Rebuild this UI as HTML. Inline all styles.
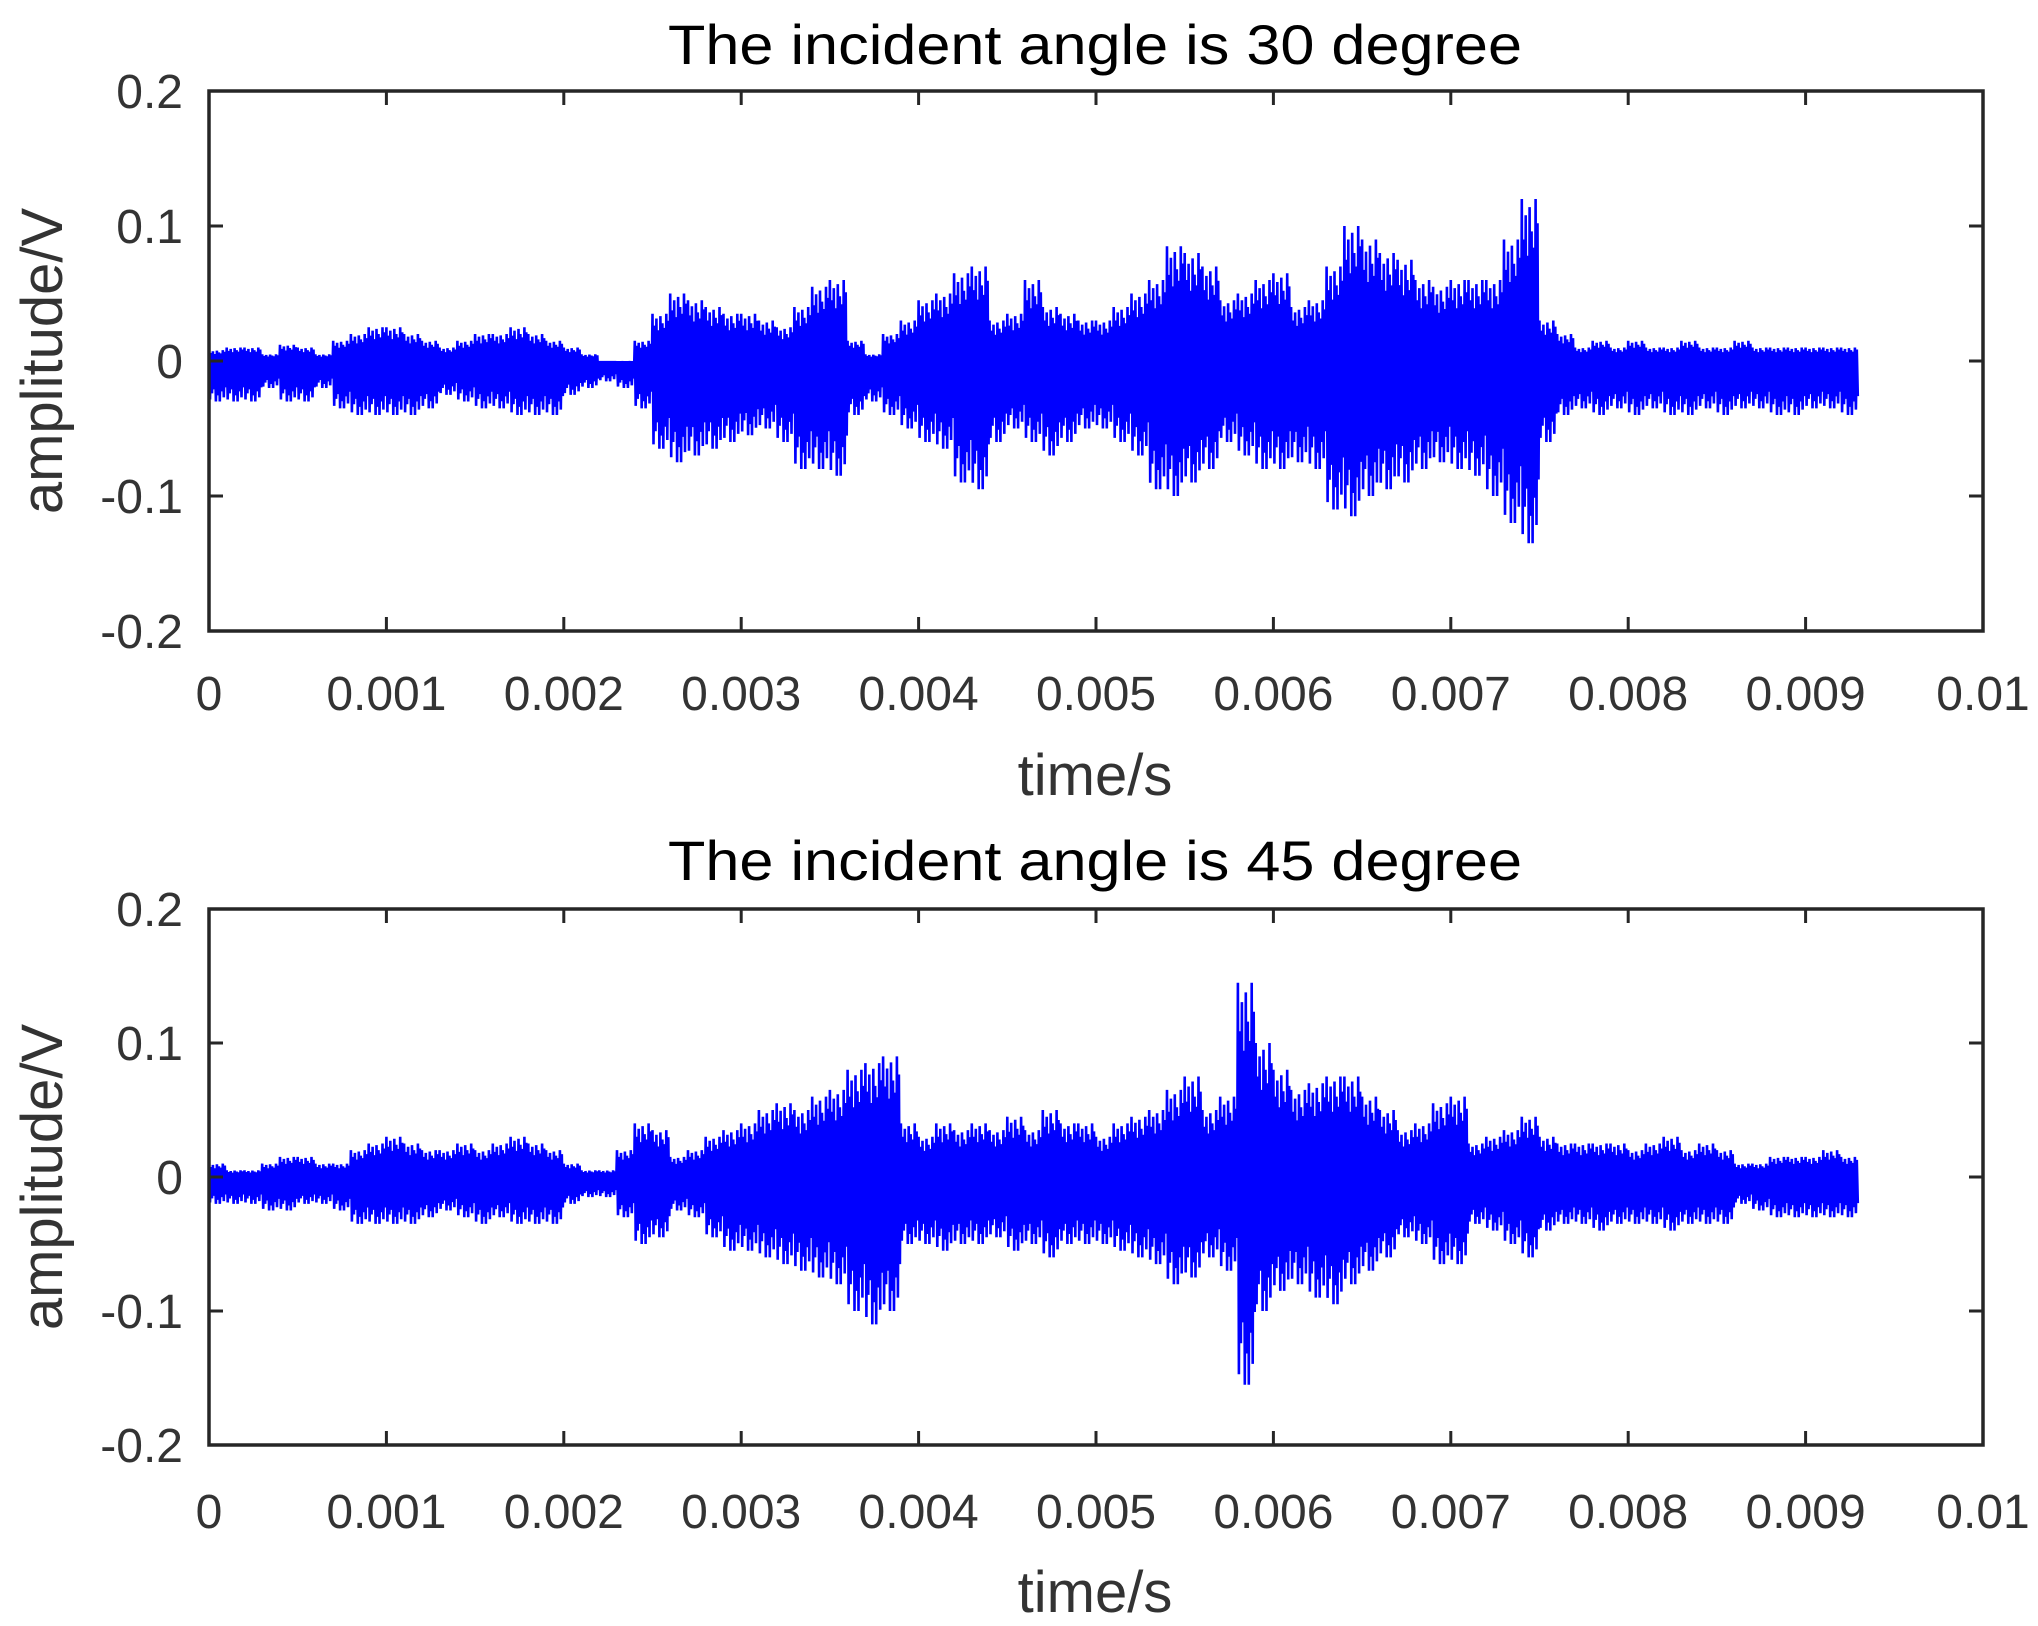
<!DOCTYPE html>
<html><head><meta charset="utf-8"><style>
html,body{margin:0;padding:0;background:#fff}
svg{display:block}
text{font-family:"Liberation Sans",Arial,sans-serif}
</style></head><body>
<svg id="fig" width="2038" height="1626" viewBox="0 0 2038 1626" xmlns="http://www.w3.org/2000/svg"></svg>
<script>
const xTicks = [0,0.001,0.002,0.003,0.004,0.005,0.006,0.007,0.008,0.009,0.01];
const xTickLabels = ["0","0.001","0.002","0.003","0.004","0.005","0.006","0.007","0.008","0.009","0.01"];
const yTicks = [-0.2,-0.1,0,0.1,0.2];
const yTickLabels = ["-0.2","-0.1","0","0.1","0.2"];
const binWidth = 0.0001;
const titles = ["The incident angle is 30 degree","The incident angle is 45 degree"];
const max30 = [0.008,0.01,0.01,0.005,0.012,0.01,0.005,0.015,0.02,0.025,
0.025,0.02,0.015,0.01,0.015,0.02,0.02,0.025,0.02,0.015,
0.01,0.005,0.0,0.0,0.015,0.035,0.05,0.045,0.04,0.035,
0.035,0.03,0.025,0.04,0.055,0.06,0.015,0.005,0.02,0.03,
0.045,0.05,0.065,0.07,0.03,0.035,0.06,0.04,0.035,0.03,
0.03,0.04,0.05,0.06,0.085,0.08,0.07,0.045,0.05,0.06,
0.065,0.04,0.045,0.07,0.1,0.09,0.08,0.075,0.06,0.055,
0.06,0.06,0.06,0.09,0.12,0.03,0.02,0.01,0.015,0.01,
0.015,0.01,0.01,0.015,0.01,0.01,0.015,0.01,0.01,0.01,
0.01,0.01,0.01];
const min30 = [-0.03,-0.03,-0.03,-0.02,-0.03,-0.03,-0.02,-0.035,-0.04,-0.04,
-0.04,-0.04,-0.035,-0.025,-0.03,-0.035,-0.035,-0.04,-0.04,-0.04,
-0.025,-0.02,-0.015,-0.02,-0.035,-0.065,-0.075,-0.07,-0.065,-0.06,
-0.055,-0.05,-0.06,-0.08,-0.08,-0.085,-0.04,-0.03,-0.04,-0.05,
-0.06,-0.065,-0.09,-0.095,-0.06,-0.05,-0.06,-0.07,-0.06,-0.05,
-0.05,-0.06,-0.07,-0.095,-0.1,-0.09,-0.08,-0.06,-0.07,-0.08,
-0.08,-0.075,-0.08,-0.11,-0.115,-0.1,-0.095,-0.09,-0.08,-0.075,
-0.08,-0.085,-0.1,-0.12,-0.135,-0.06,-0.04,-0.035,-0.04,-0.035,
-0.04,-0.035,-0.04,-0.04,-0.035,-0.04,-0.035,-0.035,-0.04,-0.04,
-0.035,-0.035,-0.04];
const max45 = [0.01,0.005,0.005,0.01,0.015,0.015,0.01,0.01,0.02,0.025,
0.03,0.025,0.02,0.02,0.025,0.02,0.025,0.03,0.025,0.02,
0.01,0.005,0.005,0.02,0.04,0.035,0.015,0.02,0.03,0.035,
0.04,0.05,0.055,0.05,0.06,0.065,0.08,0.085,0.09,0.04,
0.03,0.04,0.035,0.04,0.035,0.045,0.035,0.05,0.04,0.04,
0.03,0.04,0.045,0.05,0.065,0.075,0.05,0.06,0.145,0.1,
0.08,0.065,0.07,0.075,0.075,0.06,0.05,0.035,0.04,0.055,
0.06,0.025,0.03,0.035,0.045,0.03,0.025,0.025,0.025,0.025,
0.02,0.025,0.03,0.02,0.025,0.02,0.01,0.01,0.015,0.015,
0.015,0.02,0.015];
const min45 = [-0.02,-0.02,-0.02,-0.025,-0.025,-0.02,-0.02,-0.025,-0.035,-0.035,
-0.035,-0.035,-0.03,-0.025,-0.03,-0.035,-0.03,-0.035,-0.035,-0.035,
-0.02,-0.015,-0.015,-0.03,-0.05,-0.045,-0.025,-0.03,-0.045,-0.055,
-0.055,-0.06,-0.065,-0.07,-0.075,-0.08,-0.1,-0.11,-0.1,-0.05,
-0.05,-0.055,-0.05,-0.05,-0.045,-0.055,-0.05,-0.06,-0.05,-0.05,
-0.05,-0.055,-0.06,-0.065,-0.08,-0.075,-0.06,-0.07,-0.155,-0.1,
-0.085,-0.08,-0.09,-0.095,-0.08,-0.07,-0.06,-0.045,-0.05,-0.065,
-0.065,-0.035,-0.04,-0.05,-0.06,-0.04,-0.035,-0.035,-0.04,-0.035,
-0.035,-0.035,-0.04,-0.035,-0.035,-0.035,-0.02,-0.025,-0.03,-0.03,
-0.03,-0.03,-0.03];

const NS='http://www.w3.org/2000/svg';
const svg=document.getElementById('fig');
function mk(tag,attrs,parent){const e=document.createElementNS(NS,tag);for(const k in attrs)e.setAttribute(k,attrs[k]);(parent||svg).appendChild(e);return e;}

const L=209,R=1983;
const panels=[
 {top:91,bot:631,maxs:max30,mins:min30,titleY:64,tickY:710,labY:795,name:'panel-30-degree'},
 {top:909,bot:1445,maxs:max45,mins:min45,titleY:880,tickY:1528,labY:1612,name:'panel-45-degree'}
];
panels.forEach((p,pi)=>{
  const g=mk('g',{});
  
  
  const xs=v=>L+(v-0)/(0.01-0)*(R-L);
  const ys=v=>p.bot-(v+0.2)/0.4*(p.bot-p.top);
  let d='';
  const n=p.maxs.length;
  const sub=9;
  const fac=[1,0.75,0.9,0.65,0.95,0.8,0.7,1,0.85];
  for(let i=0;i<n;i++){
    const t0=i*binWidth;
    for(let k=0;k<sub;k++){
      const tA=t0+binWidth*(k/sub);
      const tB=t0+binWidth*((k+0.5)/sub);
      d+=(d?'L':'M')+xs(tA).toFixed(1)+','+ys(p.maxs[i]*fac[k]).toFixed(1);
      d+='L'+xs(tB).toFixed(1)+','+ys(p.mins[i]*fac[(k+4)%sub]).toFixed(1);
    }
  }
  const sig=mk('path',{d:d,fill:'none',stroke:'#0000ff','stroke-width':2.6,'stroke-linejoin':'miter'},g);
  
  
  const box=mk('rect',{x:L,y:p.top,width:R-L,height:p.bot-p.top,fill:'none',stroke:'#262626','stroke-width':3.5},g);
  
  
  xTicks.forEach((v,i)=>{
    const x=xs(v);
    if(i>0&&i<xTicks.length-1){
      mk('line',{x1:x,x2:x,y1:p.bot,y2:p.bot-14,stroke:'#262626','stroke-width':3},g);
      mk('line',{x1:x,x2:x,y1:p.top,y2:p.top+14,stroke:'#262626','stroke-width':3},g);
    }
    const t=mk('text',{x:x,y:p.tickY,'font-size':48,'text-anchor':'middle',fill:'#333'},g);
    t.textContent=xTickLabels[i];
    
    
  });
  yTicks.forEach((v,i)=>{
    const y=ys(v);
    if(i>0&&i<yTicks.length-1){
      mk('line',{x1:L,x2:L+14,y1:y,y2:y,stroke:'#262626','stroke-width':3},g);
      mk('line',{x1:R,x2:R-14,y1:y,y2:y,stroke:'#262626','stroke-width':3},g);
    }
    const t=mk('text',{x:183,y:y+17,'font-size':48,'text-anchor':'end',fill:'#333'},g);
    t.textContent=yTickLabels[i];
    
    
  });
  const tt=mk('text',{x:1095,y:p.titleY,'font-size':56,'text-anchor':'middle',fill:'#000',textLength:854,lengthAdjust:'spacingAndGlyphs'},g);
  tt.textContent=titles[pi];
  
  
  const xl=mk('text',{x:1095,y:p.labY,'font-size':58,'text-anchor':'middle',fill:'#333'},g);
  xl.textContent='time/s';
  
  
  const cy=(p.top+p.bot)/2;
  const yl=mk('text',{x:0,y:0,'font-size':58,'text-anchor':'middle',fill:'#333',transform:'translate(62,'+cy+') rotate(-90)'},g);
  yl.textContent='amplitude/V';
  
  
});
</script>
</body></html>
